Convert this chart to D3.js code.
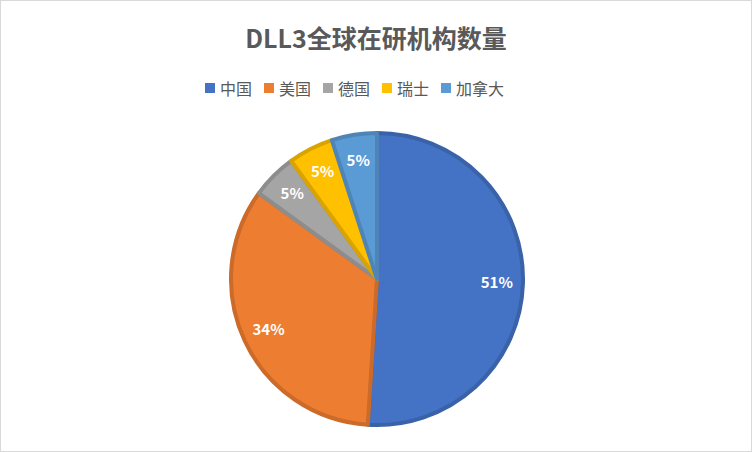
<!DOCTYPE html>
<html><head><meta charset="utf-8">
<script src="https://cdn.jsdelivr.net/npm/d3@7"></script>
<style>body{margin:0;background:#fff}svg{display:block}</style>
</head><body><svg width="752" height="452"></svg>
<script>
const categories=["中国","美国","德国","瑞士","加拿大"];
const values=[51,34,5,5,5];
const labels=["51%","34%","5%","5%","5%"];
const colors=["#4472C4","#ED7D31","#A5A5A5","#FFC000","#5B9BD5"];
const strokes=["#3A62A8","#CB6A29","#8D8D8D","#D9A300","#4E85B6"];
const font="'Noto Sans CJK SC','Noto Sans',sans-serif";
const svg=d3.select("svg");
svg.append("rect").attr("x",0.5).attr("y",0.5).attr("width",751).attr("height",451).attr("fill","#fff").attr("stroke","#D9D9D9");
svg.append("text").attr("x",376).attr("y",48).attr("text-anchor","middle").attr("font-family",font).attr("font-weight","bold").attr("font-size",25).attr("fill","#595959").text("DLL3全球在研机构数量");
// legend
const lg=svg.append("g");
let x=205;
categories.forEach((c,i)=>{
  lg.append("rect").attr("x",x).attr("y",83).attr("width",10).attr("height",10).attr("fill",colors[i]);
  const t=lg.append("text").attr("x",x+15).attr("y",95).attr("font-family",font).attr("font-size",16).attr("fill","#595959").text(c);
  x+=15+c.length*16+12;
});
const cx=377,cy=279,r=148;
const pie=d3.pie().sort(null).value(d=>d)(values);
const arc=d3.arc().innerRadius(0).outerRadius(r-2);
const g=svg.append("g").attr("transform",`translate(${cx},${cy})`);
g.selectAll("path").data(pie).join("path").attr("d",arc).attr("fill",(d,i)=>colors[i]).attr("stroke",(d,i)=>strokes[i]).attr("stroke-width",4).attr("stroke-linejoin","round");
const la=d3.arc().innerRadius(r*0.81).outerRadius(r*0.81);
g.selectAll("text").data(pie).join("text").attr("transform",d=>`translate(${la.centroid(d)})`).attr("text-anchor","middle").attr("dy","0.35em").attr("font-family",font).attr("font-weight","bold").attr("font-size",15).attr("fill","#fff").text((d,i)=>labels[i]);
</script></body></html>
